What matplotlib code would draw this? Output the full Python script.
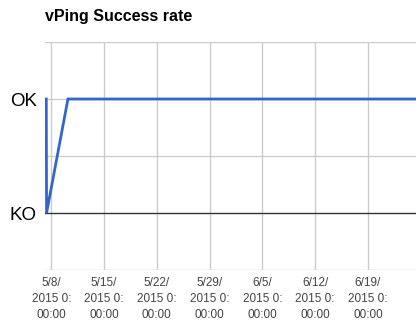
import matplotlib
matplotlib.use("Agg")
import matplotlib.pyplot as plt
import datetime as dt

# Data
times = ["2015-05-07 08:00", "2015-05-07 09:00", "2015-05-10 05:00", "2015-06-25 09:00"]
status = [1, 0, 1, 1]
y_labels = ["KO", "OK"]
tick_dates = ["2015-05-08", "2015-05-15", "2015-05-22", "2015-05-29",
              "2015-06-05", "2015-06-12", "2015-06-19"]
tick_labels = ["5/8/\n2015 0:\n00:00", "5/15/\n2015 0:\n00:00", "5/22/\n2015 0:\n00:00",
               "5/29/\n2015 0:\n00:00", "6/5/\n2015 0:\n00:00", "6/12/\n2015 0:\n00:00",
               "6/19/\n2015 0:\n00:00"]

plt.rcParams['font.family'] = ['Liberation Sans', 'DejaVu Sans']

x = [dt.datetime.strptime(t, "%Y-%m-%d %H:%M") for t in times]
xt = [dt.datetime.strptime(t, "%Y-%m-%d") for t in tick_dates]

fig = plt.figure(figsize=(4.2, 3.22), dpi=100)
ax = fig.add_axes([45/420, 1-270/322, 371/420, 228/322])

ax.set_xlim(x[0] - dt.timedelta(hours=4), x[-1])
ax.set_ylim(-0.5, 1.5)

# grid
for yv in [-0.5, 0.5, 1.0, 1.5]:
    ax.axhline(yv, color="#cccccc", lw=1, zorder=0)
for d in xt:
    ax.axvline(d, color="#cccccc", lw=1, zorder=0)
ax.axhline(0, color="#333333", lw=1, zorder=1)

ax.plot(x, status, color="#3366cc", lw=2, zorder=3, solid_joinstyle="miter")

for s in ax.spines.values():
    s.set_visible(False)

ax.set_yticks([0, 1])
ax.set_yticklabels(y_labels, fontsize=13.5, color="#000000")
ax.set_xticks(xt)
ax.set_xticklabels(tick_labels, fontsize=8.5, color="#444444", linespacing=1.45)
ax.tick_params(length=0, axis="y", pad=6)
ax.tick_params(length=0, axis="x", pad=5)

fig.text(45/420, 1-16/322, "vPing Success rate", fontsize=11.5, fontweight="bold",
         ha="left", va="center", color="#000000")

fig.savefig("out.png", dpi=100)
